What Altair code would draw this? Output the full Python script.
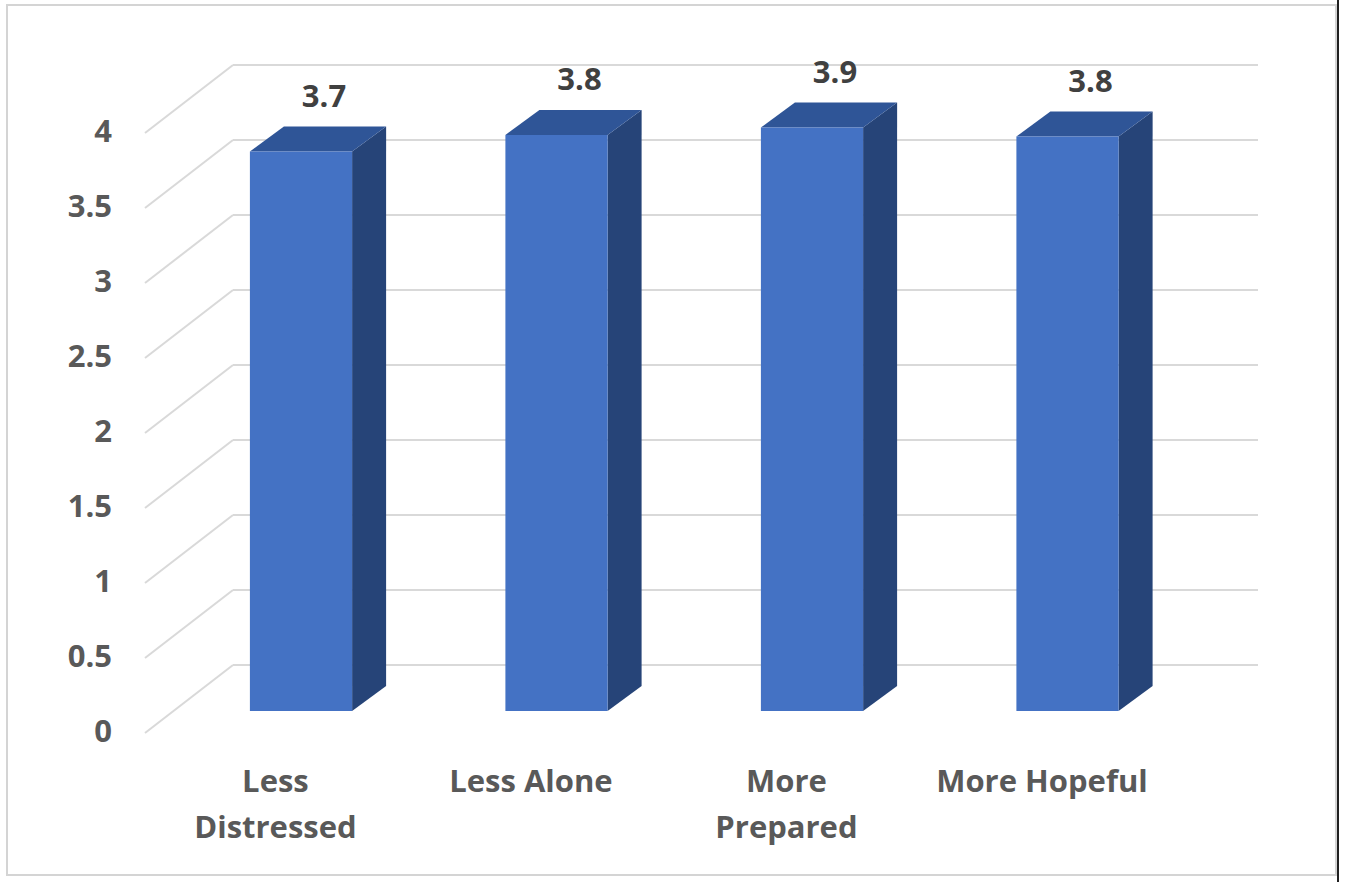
import altair as alt
import pandas as pd

# ---- data ----
categories = ["Less\nDistressed", "Less Alone", "More\nPrepared", "More Hopeful"]
values = [3.73, 3.84, 3.89, 3.83]
ticks = [0, 0.5, 1, 1.5, 2, 2.5, 3, 3.5, 4]
tick_labels = ["0", "0.5", "1", "1.5", "2", "2.5", "3", "3.5", "4"]

# ---- 3D geometry (in scale units) ----
W, H = 1345, 882
PX_CAT = 255.5          # pixels per category step
FIRST_PX = 301          # pixel of first category centre
PX_VAL = 150            # pixels per value unit
ZERO_PX = 711           # pixel of value 0 at bar front
HALF = 0.2              # half bar width (category units)
DDX = 34 / PX_CAT       # bar depth (x)
DDY = 25 / PX_VAL       # bar depth (y)
BACK_DY = 46 / PX_VAL   # back wall offset from bar front (y)
FRONT_DY = -22 / PX_VAL # front plane offset (y)
WALL_L = (233 - FIRST_PX) / PX_CAT
WALL_R = (1258 - FIRST_PX) / PX_CAT
FRONT_L = (145 - FIRST_PX) / PX_CAT
LABEL_X = (112 - FIRST_PX) / PX_CAT

x_dom = [-FIRST_PX / PX_CAT, (W - FIRST_PX) / PX_CAT]
y_dom = [(ZERO_PX - H) / PX_VAL, ZERO_PX / PX_VAL]
xs = alt.Scale(domain=x_dom, range=[0, W], nice=False, zero=False)
ys = alt.Scale(domain=y_dom, nice=False, zero=False)
X = lambda f: alt.X(f, type="quantitative", scale=xs, axis=None)
Y = lambda f: alt.Y(f, type="quantitative", scale=ys, axis=None)

bars = pd.DataFrame({
    "cat": categories,
    "idx": list(range(len(categories))),
    "value": values,
})
bars["x0"] = bars["idx"] - HALF
bars["x1"] = bars["idx"] + HALF
bars["zero"] = 0.0
bars["lab"] = [f"{v:.1f}" for v in values]
bars["lab_x"] = bars["idx"] + 0.09
bars["lab_y"] = bars["value"] + DDY + 0.133
bars["cat_x"] = bars["idx"] - 0.1
bars["cat_y"] = -0.54

side_rows, top_rows = [], []
for i, (c, v) in enumerate(zip(categories, values)):
    side_rows.append({"cat": c, "x": i + HALF, "lo": 0.0, "hi": v})
    side_rows.append({"cat": c, "x": i + HALF + DDX, "lo": DDY, "hi": v + DDY})
    top_rows.append({"cat": c, "y": v, "xl": i - HALF, "xr": i + HALF})
    top_rows.append({"cat": c, "y": v + DDY, "xl": i - HALF + DDX, "xr": i + HALF + DDX})
side = pd.DataFrame(side_rows)
top = pd.DataFrame(top_rows)

grid = pd.DataFrame({"t": ticks, "lab": tick_labels})
grid["back_y"] = grid["t"] + BACK_DY
grid["front_y"] = grid["t"] + FRONT_DY
grid["wl"] = WALL_L
grid["wr"] = WALL_R
grid["fl"] = FRONT_L
grid["lx"] = LABEL_X

GRID_C = "#D9D9D9"
FONT = "Open Sans"

back_lines = alt.Chart(grid).mark_rule(color=GRID_C, strokeWidth=2).encode(
    x=X("wl"), x2="wr", y=Y("back_y"))
diag_lines = alt.Chart(grid).mark_rule(color=GRID_C, strokeWidth=2).encode(
    x=X("fl"), x2="wl", y=Y("front_y"), y2="back_y")
ylabels = alt.Chart(grid).mark_text(
    align="right", baseline="middle", font=FONT, fontWeight="bold",
    fontSize=31, color="#595959").encode(x=X("lx"), y=Y("front_y"), text="lab:N")

front = alt.Chart(bars).mark_rect(color="#4472C4").encode(
    x=X("x0"), x2="x1", y=Y("value"), y2="zero")
side_face = alt.Chart(side).mark_area(color="#264478", opacity=1).encode(
    x=X("x"), y=Y("hi"), y2="lo", detail="cat:N")
top_face = alt.Chart(top).mark_area(color="#2F5597", orient="horizontal", opacity=1).encode(
    y=Y("y"), x=X("xl"), x2="xr", detail="cat:N")

val_labels = alt.Chart(bars).mark_text(
    align="center", baseline="alphabetic", font=FONT, fontWeight="bold",
    fontSize=31, color="#404040").encode(x=X("lab_x"), y=Y("lab_y"), text="lab:N")
cat_labels = alt.Chart(bars).mark_text(
    align="center", baseline="alphabetic", font=FONT, fontWeight="bold",
    fontSize=31, color="#595959", lineBreak="\n", lineHeight=46).encode(
    x=X("cat_x"), y=Y("cat_y"), text="cat:N")

frame = alt.Chart(bars).mark_rect(fill=None, stroke="#D4D4D4", strokeWidth=2).encode(
    x=alt.value(7), x2=alt.value(1336), y=alt.value(5), y2=alt.value(875))
right_edge = alt.Chart(bars).mark_rule(color="#202020", strokeWidth=2).encode(
    x=alt.value(1338), y=alt.value(0), y2=alt.value(H))

chart = alt.layer(
    frame, right_edge, back_lines, diag_lines, ylabels,
    side_face, top_face, front, val_labels, cat_labels
).properties(
    width=W, height=H, background="white",
    autosize=alt.AutoSizeParams(type="none"), padding=0
).configure_view(stroke=None)

chart.save("out.html", embed_options={"renderer": "svg", "actions": False})
